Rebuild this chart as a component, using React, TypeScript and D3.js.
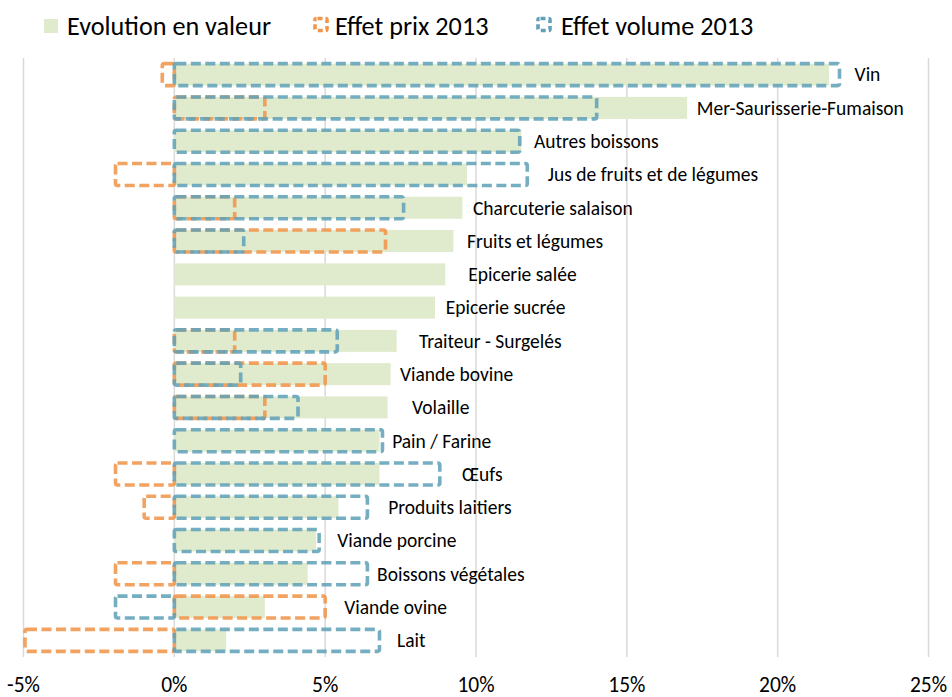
import React from "react";
import * as d3 from "d3";

const categories = [
  "Vin",
  "Mer-Saurisserie-Fumaison",
  "Autres boissons",
  "Jus de fruits et de légumes",
  "Charcuterie salaison",
  "Fruits et légumes",
  "Epicerie salée",
  "Epicerie sucrée",
  "Traiteur - Surgelés",
  "Viande bovine",
  "Volaille",
  "Pain / Farine",
  "Œufs",
  "Produits laitiers",
  "Viande porcine",
  "Boissons végétales",
  "Viande ovine",
  "Lait",
];

const evolutionValeur = [21.7, 17.0, 11.5, 9.7, 9.55, 9.25, 8.98, 8.64, 7.37, 7.17, 7.07, 6.8, 6.8, 5.44, 4.7, 4.42, 3.0, 1.72];
const effetPrix: (number | null)[] = [-0.4, 3.0, null, -1.95, 2.0, 7.0, null, null, 2.0, 5.0, 3.0, null, -1.95, -1.0, null, -1.95, 5.0, -4.95];
const effetVolume: (number | null)[] = [22.05, 14.0, 11.45, 11.7, 7.6, 2.3, null, null, 5.4, 2.2, 4.1, 6.9, 8.8, 6.4, 4.8, 6.4, -1.95, 6.8];
// label anchor positions, in axis units (%)
const labelPos = [22.55, 17.32, 11.92, 12.38, 9.9, 9.7, 9.74, 9.0, 8.11, 7.48, 7.88, 7.22, 9.54, 7.09, 5.4, 6.72, 5.63, 7.38];

const xTicks = [-5, 0, 5, 10, 15, 20, 25];
const legendItems = ["Evolution en valeur", "Effet prix 2013", "Effet volume 2013"];

const GREEN = "#e0eacc";
const ORANGE = "#f0954b";
const BLUE = "#62a2b8";
const FONT = "Carlito, Calibri, Lato, sans-serif";

export default function App() {
  const W = 952;
  const H = 697;
  const x = d3.scaleLinear().domain([-5, 25]).range([23.5, 928.5]);
  const y = d3.scaleBand<string>().domain(categories).range([58, 657]).paddingInner(0.34).paddingOuter(0.17);
  const bh = y.bandwidth();

  const box = (v: number | null, i: number, color: string, key: string, op: number) => {
    if (v === null) return null;
    const x0 = x(Math.min(0, v));
    const x1 = x(Math.max(0, v));
    return (
      <rect
        key={key + i}
        x={x0}
        y={y(categories[i])!}
        width={x1 - x0}
        height={bh}
        rx={2}
        fill="none"
        stroke={color}
        strokeOpacity={op}
        strokeWidth={3.6}
        strokeDasharray="10 4.5"
        strokeLinejoin="round"
      />
    );
  };

  return (
    <svg width={W} height={H} style={{ display: "block", position: "absolute", left: 0, top: 0 }} fontFamily={FONT}>
      <rect width={W} height={H} fill="#fff" />
      {xTicks.map((t) => (
        <line key={"g" + t} x1={x(t)} x2={x(t)} y1={58} y2={657} stroke="#d9d9d9" strokeWidth={1.5} />
      ))}
      {evolutionValeur.map((v, i) => (
        <rect key={"e" + i} x={x(Math.min(0, v))} y={y(categories[i])!} width={Math.abs(x(v) - x(0))} height={bh} fill={GREEN} />
      ))}
      {effetPrix.map((v, i) => box(v, i, ORANGE, "p", 0.88))}
      {effetVolume.map((v, i) => box(v, i, BLUE, "v", 0.88))}
      {categories.map((c, i) => (
        <text key={"l" + i} x={x(labelPos[i])} y={y(c)! + bh / 2} dy="0.35em" fontSize={19.5} fill="#000">
          {c}
        </text>
      ))}
      {xTicks.map((t) => (
        <text key={"t" + t} x={x(t)} y={692} textAnchor="middle" fontSize={21.5} fill="#000">
          {t + "%"}
        </text>
      ))}
      <g>
        <rect x={44} y={19} width={14} height={14} fill={GREEN} />
        <text x={67} y={26} dy="0.35em" fontSize={26.2} fill="#000">{legendItems[0]}</text>
        <rect x={315} y={18.5} width={12} height={12} rx={1.5} fill="none" stroke={ORANGE} strokeWidth={3.6} strokeDasharray="5 3" strokeDashoffset={-1} />
        <text x={335} y={26} dy="0.35em" fontSize={26.2} fill="#000">{legendItems[1]}</text>
        <rect x={538} y={18.5} width={12} height={12} rx={1.5} fill="none" stroke={BLUE} strokeWidth={3.6} strokeDasharray="5 3" strokeDashoffset={-1} />
        <text x={561} y={26} dy="0.35em" fontSize={26.2} fill="#000">{legendItems[2]}</text>
      </g>
    </svg>
  );
}
